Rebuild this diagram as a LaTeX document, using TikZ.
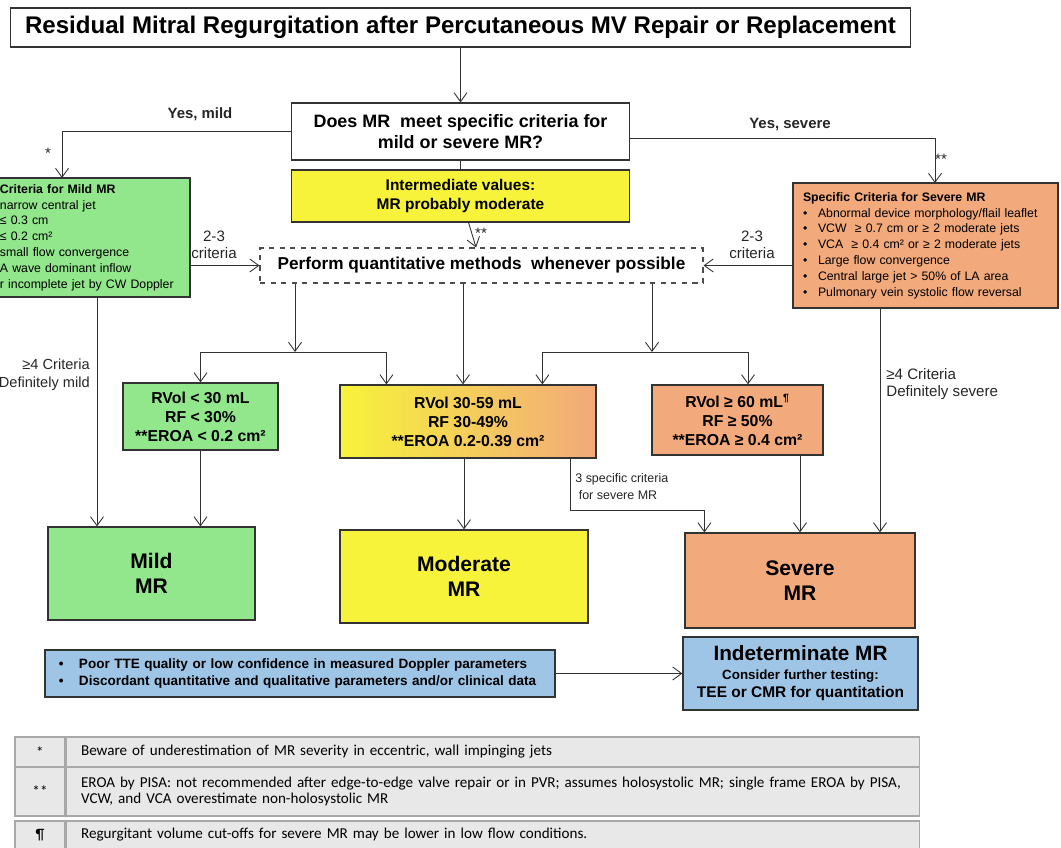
\documentclass[tikz,border=0pt]{standalone}
\usepackage{fontspec}
\setmainfont{Liberation Sans}
\newfontfamily\notefont{Carlito}
\usetikzlibrary{arrows.meta}
\usepackage{xcolor}
\definecolor{cgreen} {HTML}{92E68C}
\definecolor{cyellow}{HTML}{F7F33A}
\definecolor{corange}{HTML}{F2A97B}
\definecolor{cblue}  {HTML}{9EC4E6}
\definecolor{cnote}  {HTML}{E8E8E8}
\definecolor{cgrid}  {HTML}{A8A8A8}
\definecolor{cline}  {HTML}{333333}

\begin{document}
\begin{tikzpicture}[x=0.2mm, y=-0.2mm,
  bx/.style   = {rectangle, draw=black!80, line width=0.7pt, align=center,
                 inner sep=0pt, text=black},
  crit/.style = {bx, align=left, inner xsep=2mm, inner ysep=0pt,
                 font=\fontsize{7}{9}\selectfont},
  rvol/.style = {bx, font=\fontsize{9}{10.8}\selectfont\bfseries},
  grade/.style= {bx, font=\fontsize{12}{14.2}\selectfont\bfseries},
  lbl/.style  = {align=center, inner sep=0pt, text=black!85,
                 font=\fontsize{8.6}{10}\selectfont},
  symcell/.style = {rectangle, draw=cgrid, fill=cnote, line width=0.6pt,
                 minimum width=10mm, inner sep=0pt, font=\notefont\fontsize{8.6}{9.1}\selectfont},
  txtcell/.style = {rectangle, draw=cgrid, fill=cnote, line width=0.6pt,
                 text width=164.6mm, inner xsep=3mm, inner ysep=0pt, align=left,
                 font=\notefont\fontsize{8.6}{9.1}\selectfont},
  arr/.style  = {-{Straight Barb[length=1.8mm, width=2.6mm]}, line width=0.5pt, draw=cline},
  ln/.style   = {line width=0.5pt, draw=cline}
]
\useasboundingbox (0,0) rectangle (1061,847);
\clip (0,0) rectangle (1061,847);

% question and first level
\node[bx, minimum width=180mm, minimum height=7.8mm,
      font=\fontsize{13.7}{15}\selectfont\bfseries] (title) at (460.5,27.5)
  {Residual Mitral Regurgitation after Percutaneous MV Repair or Replacement};
\node[bx, minimum width=67.6mm, minimum height=11.4mm,
      font=\fontsize{10.2}{12}\selectfont\bfseries] (q) at (460.5,131.5)
  {Does MR\ \ meet specific criteria for\\mild or severe MR?};
\node[bx, fill=cyellow, minimum width=67.6mm, minimum height=10.4mm,
      font=\fontsize{8.8}{10.8}\selectfont\bfseries] (inter) at (460.5,196)
  {Intermediate values:\\MR probably moderate};
\node[bx, dashed, draw=black!70, line width=0.6pt, minimum width=88.6mm, minimum height=7mm,
      font=\fontsize{9.8}{11}\selectfont\bfseries] (quant) at (481.5,265.5)
  {Perform quantitative methods\ \ whenever possible};

% specific criteria
\node[crit, fill=cgreen, text width=36mm, minimum height=23.8mm] (critm) at (90,237.5)
  {\textbf{Criteria for Mild MR}\\
   narrow central jet\\
   ≤ 0.3 cm\\
   ≤ 0.2 cm²\\
   small flow convergence\\
   A wave dominant inflow\\
   r incomplete jet by CW Doppler};
\node[crit, fill=corange, text width=49mm, minimum height=25mm] (crits) at (925.5,245.5)
  {\textbf{Specific Criteria for Severe MR}\\
   \makebox[3mm][l]{\textbullet}Abnormal device morphology/flail leaflet\\
   \makebox[3mm][l]{\textbullet}VCW\ \ ≥ 0.7 cm or ≥ 2 moderate jets\\
   \makebox[3mm][l]{\textbullet}VCA\ \ ≥ 0.4 cm² or ≥ 2 moderate jets\\
   \makebox[3mm][l]{\textbullet}Large flow convergence\\
   \makebox[3mm][l]{\textbullet}Central large jet > 50\% of LA area\\
   \makebox[3mm][l]{\textbullet}Pulmonary vein systolic flow reversal};

% quantitative results
\node[rvol, fill=cgreen, minimum width=31mm, minimum height=13.4mm] (rmild) at (200.5,416.5)
  {RVol < 30 mL\\RF < 30\%\\**EROA < 0.2 cm²};
\node[rvol, left color=cyellow, right color=corange, minimum width=51.2mm, minimum height=14.6mm] (rmod) at (468,421.5)
  {RVol 30-59 mL\\RF 30-49\%\\**EROA 0.2-0.39 cm²};
\node[rvol, fill=corange, minimum width=34.2mm, minimum height=14mm] (rsev) at (737.5,420)
  {RVol ≥ 60 mL\textsuperscript{¶}\\RF ≥ 50\%\\**EROA ≥ 0.4 cm²};

% grades
\node[grade, fill=cgreen, minimum width=41.4mm, minimum height=18.6mm] (mild) at (151.5,573.5) {Mild\\MR};
\node[grade, fill=cyellow, minimum width=49.6mm, minimum height=18.6mm] (mod) at (464,576.5) {Moderate\\MR};
\node[grade, fill=corange, minimum width=46mm, minimum height=19mm] (sev) at (800,580.5) {Severe\\MR};

% indeterminate
\node[bx, fill=cblue, align=left, text width=96.4mm, minimum height=9.4mm, inner xsep=2.8mm,
      font=\fontsize{7.7}{10.2}\selectfont\bfseries] (poor) at (300,673.5)
  {\makebox[4mm][l]{\textbullet}Poor TTE quality or low confidence in measured Doppler parameters\\
   \makebox[4mm][l]{\textbullet}Discordant quantitative and qualitative parameters and/or clinical data};
\node[bx, fill=cblue, minimum width=47mm, minimum height=14.6mm,
      font=\fontsize{8.8}{10.5}\selectfont\bfseries] (indet) at (800.5,673.5)
  {{\fontsize{11.8}{12}\selectfont Indeterminate MR}\\
   {\fontsize{7.6}{10}\selectfont Consider further testing:}\\
   TEE or CMR for quantitation};

% connectors
\coordinate (cm) at (62,178);
\coordinate (cs) at (935,183);
\coordinate (sl) at (295,352);
\coordinate (sr) at (652,352);
\draw[arr] (title) -- (q);
\draw[arr] (q.west) -| (cm);
\draw[arr] ([yshift=-1.3mm]q.east) -| (cs);
\draw[ln]  (q) -- (inter);
\draw[arr] (inter) -- (quant);
\draw[arr] (critm.east |- quant.west) -- (quant.west);
\draw[arr] (crits.west |- quant.east) -- (quant.east);
\draw[arr] (quant.south -| sl) -- (sl);
\draw[arr] (sl) -| (rmild.north);
\draw[arr] (sl) -| ([xshift=9.4mm]rmod.north west);
\draw[arr] ([xshift=-1mm]rmod.north |- quant.south) -- ([xshift=-1mm]rmod.north);
\draw[arr] (quant.south -| sr) -- (sr);
\draw[arr] (sr) -| ([xshift=40.6mm]rmod.north west);
\draw[arr] (sr) -| ([xshift=2.1mm]rsev.north);
\draw[arr] ([xshift=1.4mm]critm.south) -- ([xshift=1.4mm]critm.south |- mild.north);
\draw[arr] (rmild.south) -- (rmild.south |- mild.north);
\draw[arr] (mod.north |- rmod.south) -- (mod.north);
\draw[arr] ([xshift=-5.2mm]rmod.south east) -- ++(0,52) -| ([xshift=4mm]sev.north west);
\draw[arr] (sev.north |- rsev.south) -- (sev.north);
\draw[arr] ([xshift=-9.1mm]crits.south) -- ([xshift=-9.1mm]crits.south |- sev.north);
\draw[arr] (poor) -- (indet);

% labels
\node[lbl, font=\fontsize{8.5}{10}\selectfont\bfseries] (ymild) at (200,114) {Yes, mild};
\node[lbl, font=\fontsize{8.5}{10}\selectfont\bfseries] (ysev) at (790,125) {Yes, severe};
\node[lbl] (st1) at (48,153) {*};
\node[lbl] (st2) at (941,159) {**};
\node[lbl] (st3) at (481,233) {**};
\node[lbl] (c23l) at (214,245) {2-3\\criteria};
\node[lbl] (c23r) at (752,245) {2-3\\criteria};
\node[lbl, align=right, anchor=north east, font=\fontsize{8.3}{10}\selectfont] (defm) at (90,359) {≥4 Criteria\\Definitely mild};
\node[lbl, align=left, anchor=north west] (defs) at (886,368) {≥4 Criteria\\Definitely severe};
\node[lbl, align=left, anchor=north west, font=\fontsize{7.1}{9.7}\selectfont] (spec3) at (575,473)
  {3 specific criteria\\\ for severe MR};

% footnotes
\node[symcell, minimum height=6mm] (s1) at (40,752) {*};
\node[txtcell, minimum height=6mm, anchor=west] (t1) at (s1.east)
  {Beware of underestimation of MR severity in eccentric, wall impinging jets};
\node[symcell, minimum height=9.8mm] (s2) at (40,791.5) {**};
\node[txtcell, minimum height=9.8mm, anchor=west] (t2) at (s2.east)
  {EROA by PISA: not recommended after edge-to-edge valve repair or in PVR; assumes holosystolic MR; single frame EROA by PISA,\\
   VCW, and VCA overestimate non-holosystolic MR};
\node[symcell, minimum height=5.6mm] (s3) at (40,835) {¶};
\node[txtcell, minimum height=5.6mm, anchor=west] (t3) at (s3.east)
  {Regurgitant volume cut-offs for severe MR may be lower in low flow conditions.};
\end{tikzpicture}
\end{document}
